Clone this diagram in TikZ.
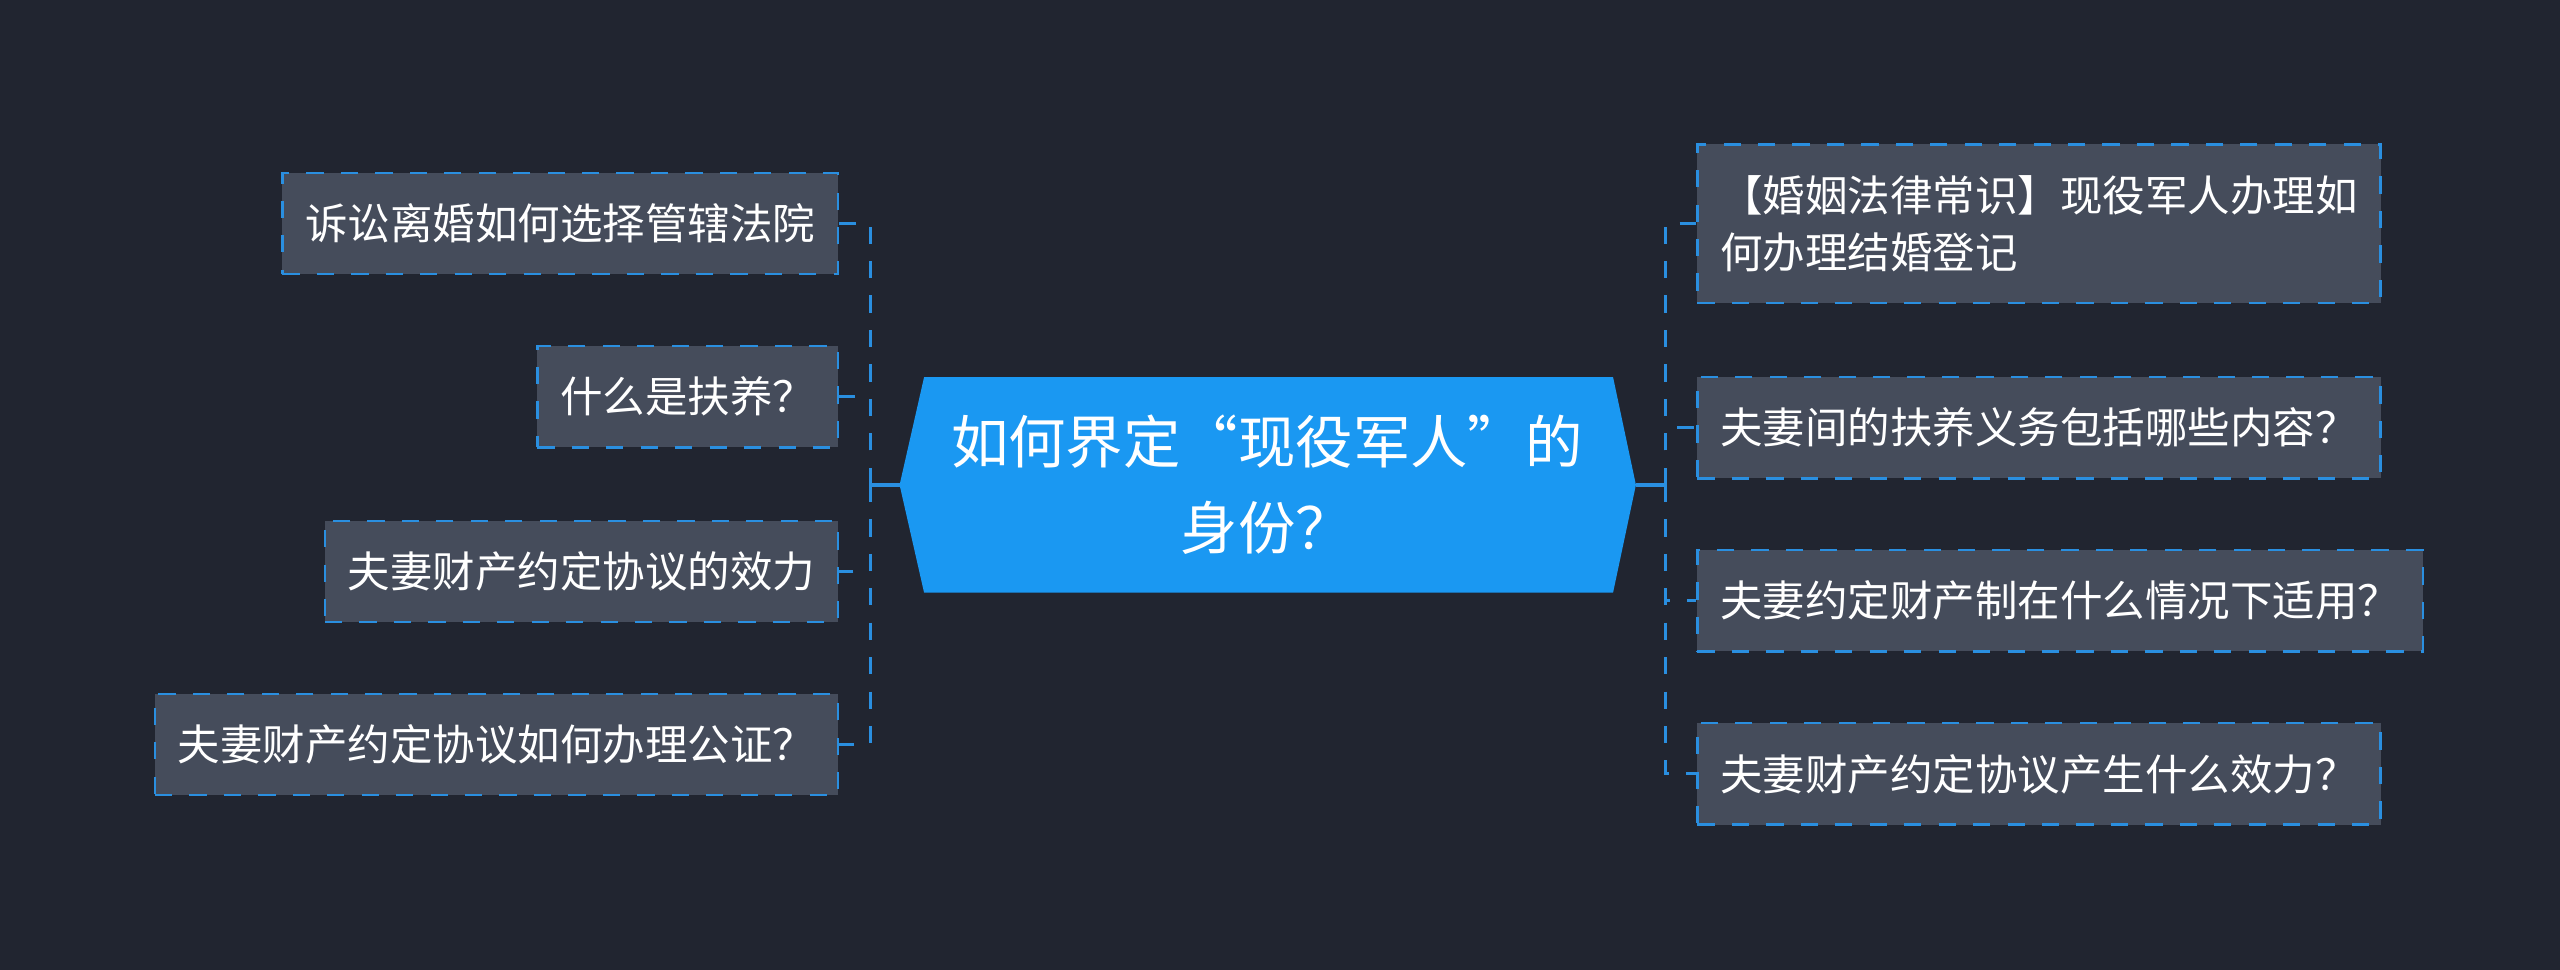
\documentclass[tikz,border=0pt]{standalone}
\usepackage{fontspec}
\setmainfont{Noto Sans CJK SC}
\usetikzlibrary{positioning,calc,backgrounds}
\definecolor{bgdark}{HTML}{212530}
\definecolor{boxgray}{HTML}{454C5B}
\definecolor{linkblue}{HTML}{2A8FE0}
\definecolor{mainblue}{HTML}{1A98F2}
\tikzset{
  leaf/.style={draw=linkblue, dashed, fill=boxgray, text=white, inner xsep=0.14cm,
    minimum height=0.62cm, font=\fontsize{7.4}{10}\selectfont, align=left},
  link/.style={draw=linkblue, dashed, line width=0.5pt},
}
\begin{document}
\begin{tikzpicture}[x=0.01cm,y=-0.01cm]
\fill[bgdark] (0,0) rectangle (1568,594);
\useasboundingbox (0,0) rectangle (1568,594);
% centre
\fill[mainblue] (566,231) -- (988,231) -- (1002,297) -- (988,363) -- (566,363) -- (551,297) -- cycle;
\node (c) at (776,297) [text=white, align=center, font=\fontsize{10}{15}\selectfont] {如何界定“现役军人”的\\身份？};
\coordinate (cw) at (551,297);
\coordinate (ce) at (1002,297);
% left
\node (l1) [leaf, anchor=east] at (514,137) {诉讼离婚如何选择管辖法院};
\node (l2) [leaf, anchor=east] at (514,243) {什么是扶养？};
\node (l3) [leaf, anchor=east] at (514,350) {夫妻财产约定协议的效力};
\node (l4) [leaf, anchor=east] at (514,456) {夫妻财产约定协议如何办理公证？};
% right
\node (r1) [leaf, anchor=west, minimum height=0.97cm] at (1039,137) {【婚姻法律常识】现役军人办理如\\何办理结婚登记};
\node (r2) [leaf, anchor=west] at (1039,262) {夫妻间的扶养义务包括哪些内容？};
\node (r3) [leaf, anchor=west] at (1039,368) {夫妻约定财产制在什么情况下适用？};
\node (r4) [leaf, anchor=west] at (1039,474) {夫妻财产约定协议产生什么效力？};
\coordinate (lb) at (533,297);
\coordinate (rb) at (1020,297);
\draw[linkblue, line width=0.8pt] (cw) -- (lb);
\draw[linkblue, line width=0.8pt] (ce) -- (rb);
\foreach \n in {l1,l2,l3,l4} \draw[link] (lb) |- (\n.east);
\foreach \n in {r1,r2,r3,r4} \draw[link] (rb) |- (\n.west);
\end{tikzpicture}
\end{document}
